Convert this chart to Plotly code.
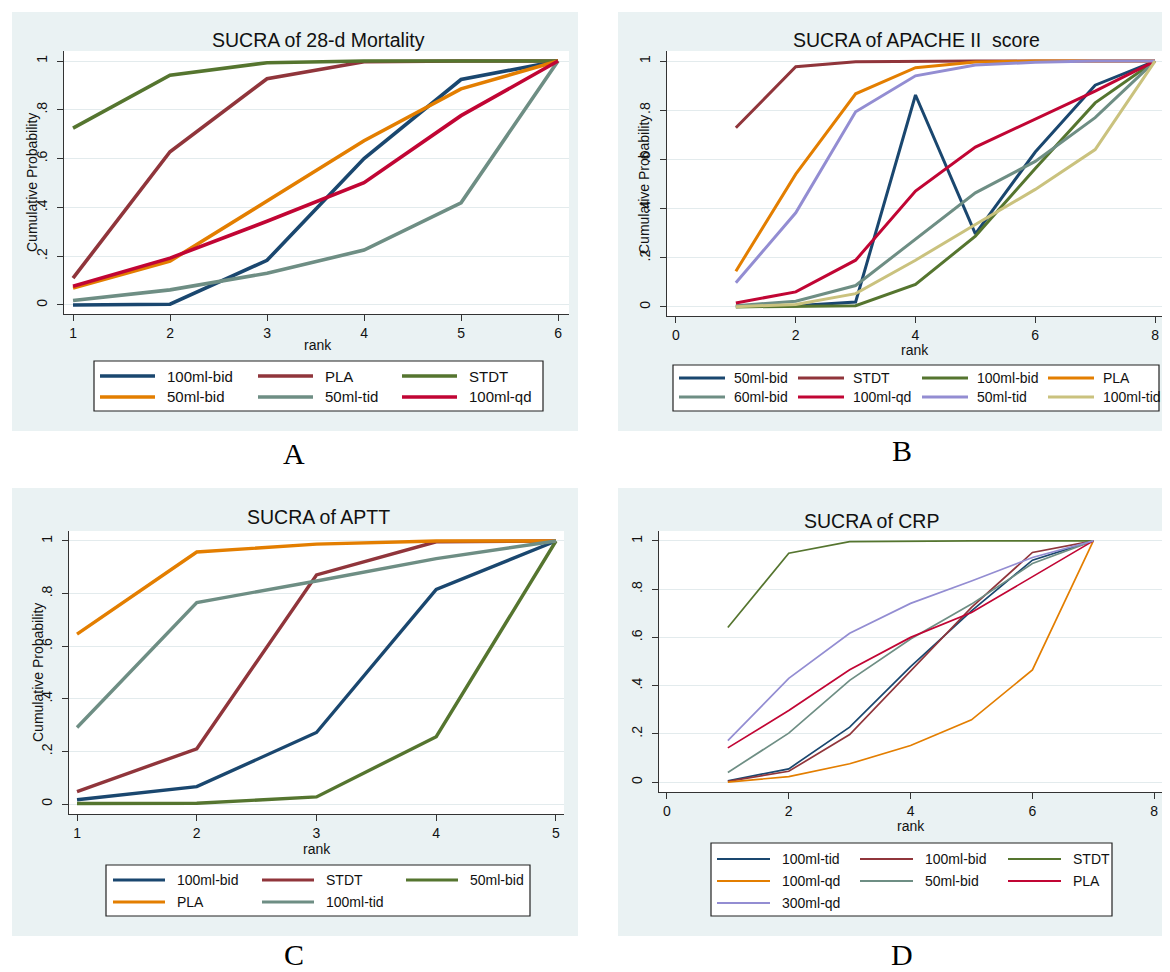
import plotly.graph_objects as go

W, H = 1170, 972
FONT = "Liberation Sans, Arial, sans-serif"
SERIF = "Liberation Serif, Times New Roman, serif"
TXT = "#111111"
BG = "#eaf2f3"
GRID = "#e3ebed"

PALETTE = ["#1a476f", "#90353b", "#55752f", "#e37e00",
           "#6e8e84", "#c10534", "#938dd2", "#cac27e"]

# ---------------- Panel A: SUCRA of 28-d Mortality ----------------
a_title = "SUCRA of 28-d Mortality"
a_ranks = [1, 2, 3, 4, 5, 6]
a_xticks = [1, 2, 3, 4, 5, 6]
a_names = ["100ml-bid", "PLA", "STDT", "50ml-bid", "50ml-tid", "100ml-qd"]
a_100ml_bid = [0.000, 0.003, 0.183, 0.600, 0.924, 1.000]
a_pla = [0.110, 0.628, 0.927, 0.997, 1.000, 1.000]
a_stdt = [0.725, 0.942, 0.993, 1.000, 1.000, 1.000]
a_50ml_bid = [0.069, 0.180, 0.426, 0.673, 0.886, 1.000]
a_50ml_tid = [0.018, 0.062, 0.130, 0.225, 0.419, 1.000]
a_100ml_qd = [0.077, 0.192, 0.343, 0.501, 0.776, 1.000]

# ---------------- Panel B: SUCRA of APACHE II score ----------------
b_title = "SUCRA of APACHE II\u00a0 score"
b_ranks = [1, 2, 3, 4, 5, 6, 7, 8]
b_xticks = [0, 2, 4, 6, 8]
b_names = ["50ml-bid", "STDT", "100ml-bid", "PLA",
           "60ml-bid", "100ml-qd", "50ml-tid", "100ml-tid"]
b_50ml_bid = [0.002, 0.005, 0.020, 0.862, 0.297, 0.630, 0.902, 1.000]
b_stdt = [0.729, 0.977, 0.997, 1.000, 1.000, 1.000, 1.000, 1.000]
b_100ml_bid = [0.000, 0.001, 0.005, 0.091, 0.288, 0.563, 0.830, 1.000]
b_pla = [0.145, 0.540, 0.867, 0.973, 0.996, 1.000, 1.000, 1.000]
b_60ml_bid = [0.005, 0.023, 0.087, 0.274, 0.464, 0.592, 0.770, 1.000]
b_100ml_qd = [0.016, 0.061, 0.190, 0.471, 0.650, 0.765, 0.878, 1.000]
b_50ml_tid = [0.098, 0.383, 0.794, 0.940, 0.984, 0.995, 1.000, 1.000]
b_100ml_tid = [0.001, 0.010, 0.054, 0.190, 0.335, 0.478, 0.640, 1.000]

# ---------------- Panel C: SUCRA of APTT ----------------
c_title = "SUCRA of APTT"
c_ranks = [1, 2, 3, 4, 5]
c_xticks = [1, 2, 3, 4, 5]
c_names = ["100ml-bid", "STDT", "50ml-bid", "PLA", "100ml-tid"]
c_100ml_bid = [0.016, 0.066, 0.272, 0.816, 1.000]
c_stdt = [0.047, 0.210, 0.871, 0.997, 1.000]
c_50ml_bid = [0.002, 0.003, 0.027, 0.256, 1.000]
c_pla = [0.646, 0.958, 0.988, 1.000, 1.000]
c_100ml_tid = [0.291, 0.766, 0.848, 0.933, 1.000]

# ---------------- Panel D: SUCRA of CRP ----------------
d_title = "SUCRA of CRP"
d_ranks = [1, 2, 3, 4, 5, 6, 7]
d_xticks = [0, 2, 4, 6, 8]
d_names = ["100ml-tid", "100ml-bid", "STDT", "100ml-qd",
           "50ml-bid", "PLA", "300ml-qd"]
d_100ml_tid = [0.005, 0.055, 0.228, 0.479, 0.710, 0.920, 1.000]
d_100ml_bid = [0.003, 0.045, 0.197, 0.462, 0.724, 0.952, 1.000]
d_stdt = [0.641, 0.949, 0.997, 1.000, 1.000, 1.000, 1.000]
d_100ml_qd = [0.000, 0.023, 0.076, 0.152, 0.258, 0.465, 1.000]
d_50ml_bid = [0.040, 0.203, 0.422, 0.593, 0.738, 0.906, 1.000]
d_pla = [0.142, 0.297, 0.466, 0.600, 0.703, 0.852, 1.000]
d_300ml_qd = [0.172, 0.430, 0.617, 0.741, 0.834, 0.931, 1.000]

y_tickvals = [0, 0.2, 0.4, 0.6, 0.8, 1]
y_ticktext = ["0", ".2", ".4", ".6", ".8", "1"]

# ---------------- layout geometry (pixels) ----------------
panels = [
    dict(key="", title=a_title, ranks=a_ranks, xticks=a_xticks, names=a_names,
         series=[a_100ml_bid, a_pla, a_stdt, a_50ml_bid, a_50ml_tid, a_100ml_qd],
         bg=(4, 4, 570, 423), plot=(56, 43, 561, 306),
         xr=[0.907, 6.113], yr=[-0.037, 1.041], lw=3.6,
         title_xy=(310, 32), rank_xy=(310, 337), ylab_xy=(24, 175),
         letter="A", letter_xy=(286, 445),
         leg_box=(86, 353, 535, 403), leg_rows=[368, 389],
         leg_cols=[92, 250, 394], sw_len=55, txt_gap=10, leg_font=15, leg_lw=3.4),
    dict(key="2", title=b_title, ranks=b_ranks, xticks=b_xticks, names=b_names,
         series=[b_50ml_bid, b_stdt, b_100ml_bid, b_pla, b_60ml_bid,
                 b_100ml_qd, b_50ml_tid, b_100ml_tid],
         bg=(610, 4, 1170, 423), plot=(659, 43, 1156, 308),
         xr=[-0.15, 8.15], yr=[-0.037, 1.041], lw=3.0,
         title_xy=(908, 32), rank_xy=(907, 342), ylab_xy=(636, 177),
         letter="B", letter_xy=(894, 443),
         leg_box=(665, 357, 1151, 403), leg_rows=[370, 389],
         leg_cols=[671, 790, 914, 1040], sw_len=46, txt_gap=7, leg_font=14, leg_lw=3.0),
    dict(key="3", title=c_title, ranks=c_ranks, xticks=c_xticks, names=c_names,
         series=[c_100ml_bid, c_stdt, c_50ml_bid, c_pla, c_100ml_tid],
         bg=(4, 480, 570, 928), plot=(61, 523, 556, 806),
         xr=[0.933, 5.067], yr=[-0.038, 1.038], lw=3.4,
         title_xy=(310, 509), rank_xy=(309, 841), ylab_xy=(30, 665),
         letter="C", letter_xy=(286, 946),
         leg_box=(98, 857, 522, 908), leg_rows=[872, 894],
         leg_cols=[105, 254, 398], sw_len=52, txt_gap=10, leg_font=14, leg_lw=3.2),
    dict(key="4", title=d_title, ranks=d_ranks, xticks=d_xticks, names=d_names,
         series=[d_100ml_tid, d_100ml_bid, d_stdt, d_100ml_qd, d_50ml_bid,
                 d_pla, d_300ml_qd],
         bg=(610, 480, 1170, 928), plot=(651, 523, 1156, 784),
         xr=[-0.13, 8.16], yr=[-0.041, 1.041], lw=1.7,
         title_xy=(863, 513), rank_xy=(903, 818), ylab_xy=None,
         letter="D", letter_xy=(894, 946),
         leg_box=(703, 835, 1104, 908), leg_rows=[851, 873, 895],
         leg_cols=[709, 852, 1000], sw_len=53, txt_gap=10, leg_font=14, leg_lw=1.8),
]


def px(x):
    return x / W


def py(y):
    return 1 - y / H


fig = go.Figure()
shapes = []
annotations = []
layout_axes = {}

for p in panels:
    k = p["key"]
    xname, yname = "x" + k, "y" + k
    L, T, R, B = p["plot"]

    # panel background and white plot region
    bx0, by0, bx1, by1 = p["bg"]
    shapes.append(dict(type="rect", xref="paper", yref="paper",
                       x0=px(bx0), x1=px(bx1), y0=py(by1), y1=py(by0),
                       fillcolor=BG, line=dict(width=0), layer="below"))
    shapes.append(dict(type="rect", xref="paper", yref="paper",
                       x0=px(L), x1=px(R), y0=py(B), y1=py(T),
                       fillcolor="white", line=dict(width=0), layer="below"))

    # series lines
    ncol = len(p["leg_cols"])
    for i, (name, vals) in enumerate(zip(p["names"], p["series"])):
        fig.add_trace(go.Scatter(
            x=p["ranks"], y=vals, mode="lines", name=name,
            line=dict(color=PALETTE[i], width=p["lw"]),
            xaxis=xname, yaxis=yname, showlegend=False, hoverinfo="skip"))

    layout_axes["xaxis" + k] = dict(
        domain=[px(L), px(R)], range=p["xr"], anchor=yname,
        tickvals=p["xticks"], ticks="outside", ticklen=6, tickwidth=1.2,
        tickcolor="#333", showline=True, linecolor="#333", linewidth=1.4,
        showgrid=False, zeroline=False,
        tickfont=dict(family=FONT, size=14, color=TXT))
    layout_axes["yaxis" + k] = dict(
        domain=[py(B), py(T)], range=p["yr"], anchor=xname,
        tickvals=y_tickvals, ticktext=y_ticktext, tickangle=-90,
        ticks="outside", ticklen=6, tickwidth=1.2, tickcolor="#333",
        ticklabelstandoff=4,
        showline=True, linecolor="#333", linewidth=1.4,
        showgrid=True, gridcolor=GRID, gridwidth=1, zeroline=False,
        tickfont=dict(family=FONT, size=14, color=TXT))

    # titles / axis labels / panel letter
    tx, ty = p["title_xy"]
    annotations.append(dict(text=p["title"], x=px(tx), y=py(ty), xref="paper",
                            yref="paper", showarrow=False, xanchor="center",
                            yanchor="middle",
                            font=dict(family=FONT, size=19.5, color=TXT)))
    rx, ry = p["rank_xy"]
    annotations.append(dict(text="rank", x=px(rx), y=py(ry), xref="paper",
                            yref="paper", showarrow=False, xanchor="center",
                            yanchor="middle",
                            font=dict(family=FONT, size=14, color=TXT)))
    if p["ylab_xy"] is not None:
        lx, ly = p["ylab_xy"]
        annotations.append(dict(text="Cumulative Probability", x=px(lx), y=py(ly),
                                xref="paper", yref="paper", showarrow=False,
                                textangle=-90, xanchor="center", yanchor="middle",
                                font=dict(family=FONT, size=14, color=TXT)))
    gx, gy = p["letter_xy"]
    annotations.append(dict(text=p["letter"], x=px(gx), y=py(gy), xref="paper",
                            yref="paper", showarrow=False, xanchor="center",
                            yanchor="middle",
                            font=dict(family=SERIF, size=30, color="#000")))

    # legend box (rows filled first, like Stata)
    lx0, ly0, lx1, ly1 = p["leg_box"]
    shapes.append(dict(type="rect", xref="paper", yref="paper",
                       x0=px(lx0), x1=px(lx1), y0=py(ly1), y1=py(ly0),
                       fillcolor="white", line=dict(color="#222", width=1.2),
                       layer="above"))
    for i, name in enumerate(p["names"]):
        r, c = divmod(i, ncol)
        sx = p["leg_cols"][c]
        sy = p["leg_rows"][r]
        shapes.append(dict(type="line", xref="paper", yref="paper",
                           x0=px(sx), x1=px(sx + p["sw_len"]), y0=py(sy), y1=py(sy),
                           line=dict(color=PALETTE[i], width=p["leg_lw"]),
                           layer="above"))
        annotations.append(dict(text=name, x=px(sx + p["sw_len"] + p["txt_gap"]),
                                y=py(sy), xref="paper", yref="paper",
                                showarrow=False, xanchor="left", yanchor="middle",
                                font=dict(family=FONT, size=p["leg_font"], color=TXT)))

fig.update_layout(
    width=W, height=H, autosize=False,
    margin=dict(l=0, r=0, t=0, b=0),
    paper_bgcolor="white", plot_bgcolor="rgba(0,0,0,0)",
    showlegend=False, shapes=shapes, annotations=annotations,
    **layout_axes)

fig.write_html("out.html")
